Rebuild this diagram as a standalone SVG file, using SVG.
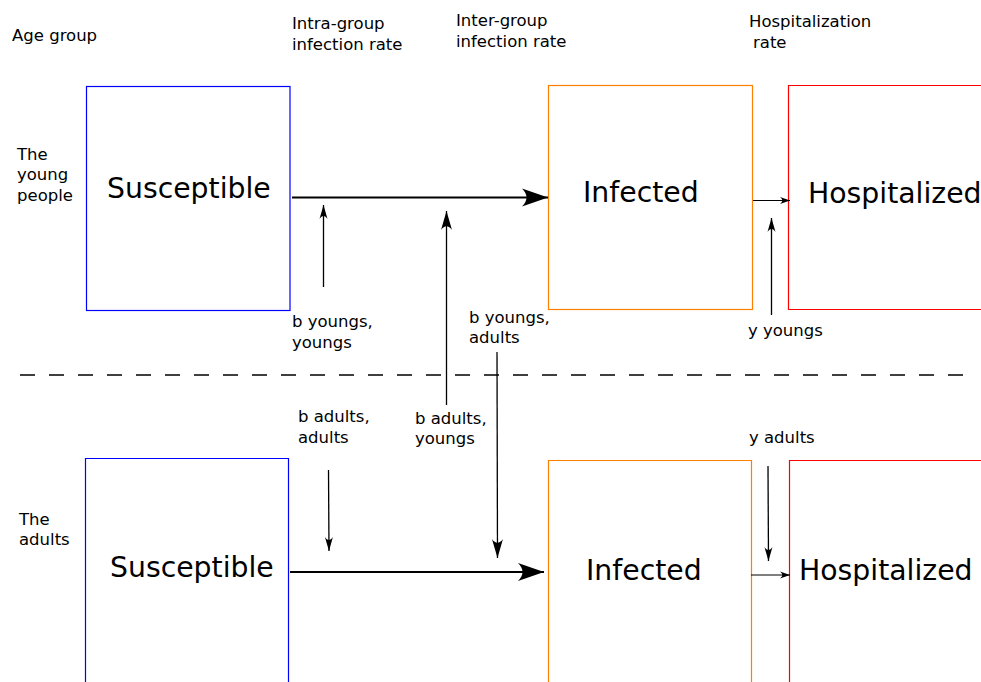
<svg xmlns="http://www.w3.org/2000/svg" width="981" height="682" viewBox="0 0 981 682">
<style>
  text { font-family: "DejaVu Sans", sans-serif; fill: #000; }
  .lbl { font-size: 16.5px; }
  .big { font-size: 28.3px; }
  .box { fill: none; stroke-width: 1.2; }
  .sus { stroke: #0000ff; }
  .inf { stroke: #ff8000; }
  .hos { stroke: #ff0000; }
  .main { stroke: #000; stroke-width: 2; fill: none; }
  .thin { stroke: #000; stroke-width: 1.3; fill: none; }
  .hair { stroke: #000; stroke-width: 1; fill: none; }
</style>
<defs>
  <marker id="aBig" markerUnits="userSpaceOnUse" viewBox="-28 -10 30 20" refX="0" refY="0" markerWidth="30" markerHeight="20" orient="auto" overflow="visible">
    <path d="M0,0 L-26,-9 C-20,-3 -20,3 -26,9 Z" fill="#000"/>
  </marker>
  <marker id="aMed" markerUnits="userSpaceOnUse" viewBox="-20 -6 22 12" refX="0" refY="0" markerWidth="22" markerHeight="12" orient="auto" overflow="visible">
    <path d="M0,0 L-19,-5.5 C-14,-2 -14,2 -19,5.5 Z" fill="#000"/>
  </marker>
  <marker id="aSm" markerUnits="userSpaceOnUse" viewBox="-16 -5 18 10" refX="0" refY="0" markerWidth="18" markerHeight="10" orient="auto" overflow="visible">
    <path d="M0,0 L-14,-4 C-10,-1.5 -10,1.5 -14,4 Z" fill="#000"/>
  </marker>
  <marker id="aXs" markerUnits="userSpaceOnUse" viewBox="-12 -4 14 8" refX="0" refY="0" markerWidth="14" markerHeight="8" orient="auto" overflow="visible">
    <path d="M0,0 L-10,-3.5 C-7,-1 -7,1 -10,3.5 Z" fill="#000"/>
  </marker>
</defs>

<g id="headers">
  <text class="lbl" x="12" y="41">Age group</text>
  <text class="lbl" x="292" y="29">Intra-group</text>
  <text class="lbl" x="292" y="50">infection rate</text>
  <text class="lbl" x="456" y="26">Inter-group</text>
  <text class="lbl" x="456" y="47">infection rate</text>
  <text class="lbl" x="749" y="27">Hospitalization</text>
  <text class="lbl" x="753" y="48">rate</text>
</g>

<g id="group-young">
  <text class="lbl" x="17" y="160">The</text>
  <text class="lbl" x="17" y="180">young</text>
  <text class="lbl" x="17" y="201">people</text>
</g>
<g id="group-adults">
  <text class="lbl" x="19" y="525">The</text>
  <text class="lbl" x="19" y="545">adults</text>
</g>

<g id="young-susceptible">
  <rect class="box sus" x="86.5" y="86.5" width="203.5" height="224"/>
  <text class="big" x="107" y="198">Susceptible</text>
</g>
<g id="young-infected">
  <rect class="box inf" x="548.5" y="85.5" width="204" height="224"/>
  <text class="big" x="583" y="202">Infected</text>
</g>
<g id="young-hospitalized">
  <path class="box hos" d="M985,85.5 H788.5 V309.5 H985"/>
  <text class="big" x="808" y="203">Hospitalized</text>
</g>

<g id="adult-susceptible">
  <path class="box sus" d="M85.5,690 V458.5 H288.5 V690"/>
  <text class="big" x="110" y="577">Susceptible</text>
</g>
<g id="adult-infected">
  <path class="box inf" d="M548.5,690 V460.5 H751.5 V690"/>
  <text class="big" x="586" y="580">Infected</text>
</g>
<g id="adult-hospitalized">
  <path class="box hos" d="M789.5,690 V460.5 H985"/>
  <text class="big" x="799" y="580">Hospitalized</text>
</g>

<g id="rate-labels">
  <text class="lbl" x="292" y="327">b youngs,</text>
  <text class="lbl" x="292" y="348">youngs</text>
  <text class="lbl" x="469" y="323">b youngs,</text>
  <text class="lbl" x="469" y="343">adults</text>
  <text class="lbl" x="748" y="336">y youngs</text>
  <text class="lbl" x="298" y="422">b adults,</text>
  <text class="lbl" x="298" y="443">adults</text>
  <text class="lbl" x="415" y="424">b adults,</text>
  <text class="lbl" x="415" y="444">youngs</text>
  <text class="lbl" x="749" y="443">y adults</text>
</g>

<g id="connectors">
  <line x1="20" y1="375" x2="970" y2="375" stroke="#000" stroke-width="1.5" stroke-dasharray="15,14"/>
  <line class="main" x1="292" y1="197.5" x2="548" y2="197.5" marker-end="url(#aBig)"/>
  <line class="hair" x1="753" y1="200.5" x2="790" y2="200.5" marker-end="url(#aXs)"/>
  <line class="thin" x1="323.5" y1="287" x2="323.5" y2="205" marker-end="url(#aSm)"/>
  <line class="thin" x1="446.5" y1="405" x2="446.5" y2="211" marker-end="url(#aMed)"/>
  <line class="thin" x1="771.5" y1="315" x2="771.5" y2="218" marker-end="url(#aSm)"/>
  <line class="main" x1="290" y1="572" x2="544" y2="572" marker-end="url(#aBig)"/>
  <line class="hair" x1="751" y1="575" x2="790" y2="575" marker-end="url(#aXs)"/>
  <line class="thin" x1="328.5" y1="470" x2="329" y2="551" marker-end="url(#aSm)"/>
  <line class="thin" x1="497" y1="352" x2="497.5" y2="558" marker-end="url(#aMed)"/>
  <line class="thin" x1="768" y1="466" x2="768.5" y2="561" marker-end="url(#aSm)"/>
</g>
</svg>
